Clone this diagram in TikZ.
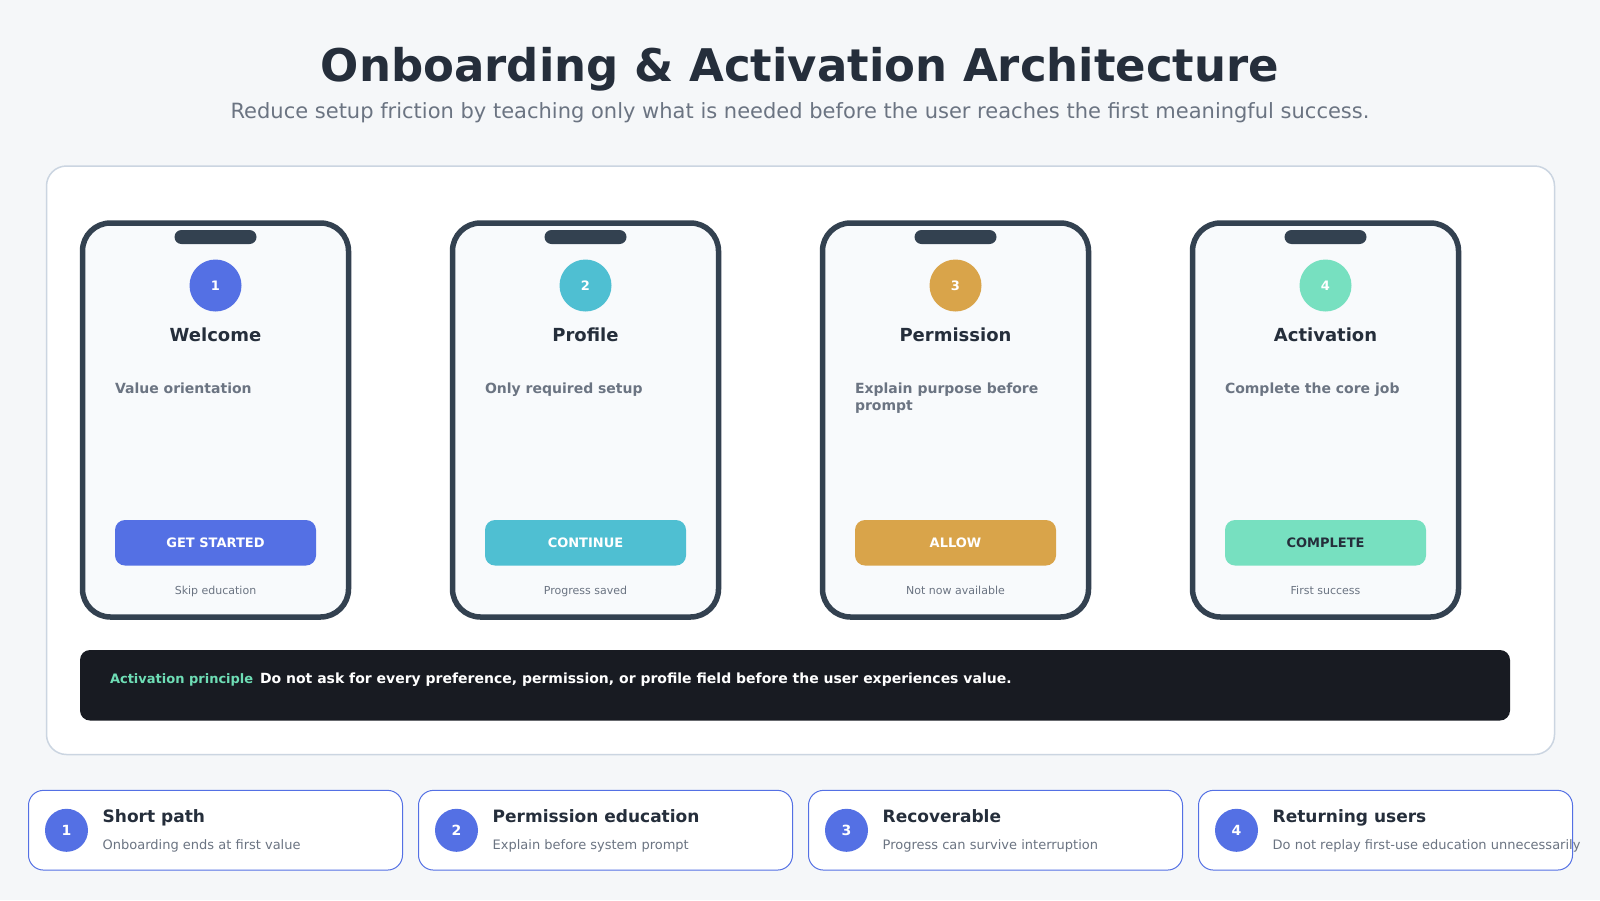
\documentclass[tikz,border=0pt]{standalone}
\usepackage{fontspec}
\setmainfont{DejaVu Sans}
\definecolor{bgc}{HTML}{F5F7F9}
\definecolor{panelborder}{HTML}{CBD5E1}
\definecolor{phonestroke}{HTML}{334150}
\definecolor{phonefill}{HTML}{F8FAFC}
\definecolor{cA}{HTML}{5470E4}
\definecolor{cB}{HTML}{4FBFD2}
\definecolor{cC}{HTML}{D9A44A}
\definecolor{cD}{HTML}{77E0C0}
\definecolor{darktext}{HTML}{252E3B}
\definecolor{graytext}{HTML}{6B7482}
\definecolor{bandc}{HTML}{181B22}
\definecolor{mint}{HTML}{6EDDB5}
\newcommand\fsz[2]{\fontsize{#1}{#2}\selectfont}
\tikzset{
  txt/.style={inner sep=0, outer sep=0},
  phonebody/.style={draw=phonestroke, line width=5.5, fill=phonefill, rounded corners=28},
  notchS/.style={fill=phonestroke, rounded corners=7, minimum width=82, minimum height=14, inner sep=0},
  stepcircle/.style={circle, minimum size=52, inner sep=0, text=white, font=\bfseries\fsz{13}{15}},
  phonetitle/.style={txt, anchor=base, text=darktext, font=\bfseries\fsz{18}{22}},
  phonedesc/.style={txt, anchor=base west, text=graytext, font=\bfseries\fsz{14}{17}},
  btnS/.style={rounded corners=10, minimum width=201, minimum height=45.5, inner sep=0, font=\bfseries\fsz{13}{15}},
  footS/.style={txt, anchor=base, text=graytext, font=\fsz{11}{13}},
  cardS/.style={draw=cA, line width=1, fill=white, rounded corners=15, minimum width=374, minimum height=79.7, inner sep=0},
  cardcircle/.style={circle, fill=cA, minimum size=43, inner sep=0, text=white, font=\bfseries\fsz{14}{16}},
  cardtitle/.style={txt, anchor=base west, text=darktext, font=\bfseries\fsz{17}{20}},
  cardsub/.style={txt, anchor=base west, text=graytext, font=\fsz{13}{16}},
}
% #1 index, #2 center x, #3 color, #4 title, #5 description, #6 button text, #7 button text colour, #8 footer
\newcommand\phoneS[8]{%
  \node[phonebody, minimum width=266, minimum height=394, inner sep=0] (ph#1) at (#2,420) {};
  \node[notchS] (notch#1) at (#2,237) {};
  \node[stepcircle, fill=#3] (circ#1) at (#2,285.5) {#1};
  \node[phonetitle] (title#1) at (#2,341.7) {#4};
  \node[phonedesc] (desc#1) at ({#2-100.5},393.3) {#5};
  \node[btnS, fill=#3, text=#7] (btn#1) at (#2,542.75) {#6};
  \node[footS] (foot#1) at (#2,594) {#8};
}
\newcommand\cardS[5]{%
  \node[cardS] (card#1) at ({#2+187},830.2) {};
  \node[cardcircle] (cc#1) at ({#2+38},830.3) {#1};
  \node[cardtitle] (ct#1) at ({#2+74.2},822.3) {#3};
  \node[cardsub] (cs#1) at ({#2+74.2},849.3) {#4};
}
\begin{document}
\begin{tikzpicture}[x=1pt,y=-1pt]
\useasboundingbox (0,0) rectangle (1600,900);
\fill[bgc] (0,0) rectangle (1600,900);
\node[txt, anchor=base, text=darktext, font=\bfseries\fsz{45}{54}] (maintitle) at (800,81.7) {Onboarding \& Activation Architecture};
\node[txt, anchor=base, text=graytext, font=\fsz{21}{25}] (subtitle) at (800,118) {Reduce setup friction by teaching only what is needed before the user reaches the first meaningful success.};
\node[draw=panelborder, line width=1.5, fill=white, rounded corners=20, minimum width=1508, minimum height=588.5, inner sep=0] (panel) at (800.5,460.25) {};
\phoneS{1}{215.5}{cA}{Welcome}{Value orientation}{GET STARTED}{white}{Skip education}
\phoneS{2}{585.5}{cB}{Profile}{Only required setup}{CONTINUE}{white}{Progress saved}
\phoneS{3}{955.5}{cC}{Permission}{Explain purpose before}{ALLOW}{white}{Not now available}
\node[phonedesc] (desc3b) at ({955.5-100.5},410.5) {prompt};
\phoneS{4}{1325.5}{cD}{Activation}{Complete the core job}{COMPLETE}{darktext}{First success}
\node[fill=bandc, rounded corners=10, minimum width=1430, minimum height=70.5, inner sep=0] (band) at (795,685.25) {};
\node[txt, anchor=base west, text=mint, font=\bfseries\fsz{13}{15}] (bandlabel) at (110,683.3) {Activation principle};
\node[txt, anchor=base west, text=white, font=\bfseries\fsz{14}{16}] (bandtext) at (260,683.3) {Do not ask for every preference, permission, or profile field before the user experiences value.};
\cardS{1}{28.5}{Short path}{Onboarding ends at first value}{}
\cardS{2}{418.5}{Permission education}{Explain before system prompt}{}
\cardS{3}{808.5}{Recoverable}{Progress can survive interruption}{}
\cardS{4}{1198.5}{Returning users}{Do not replay first-use education unnecessarily}{}
\end{tikzpicture}
\end{document}
